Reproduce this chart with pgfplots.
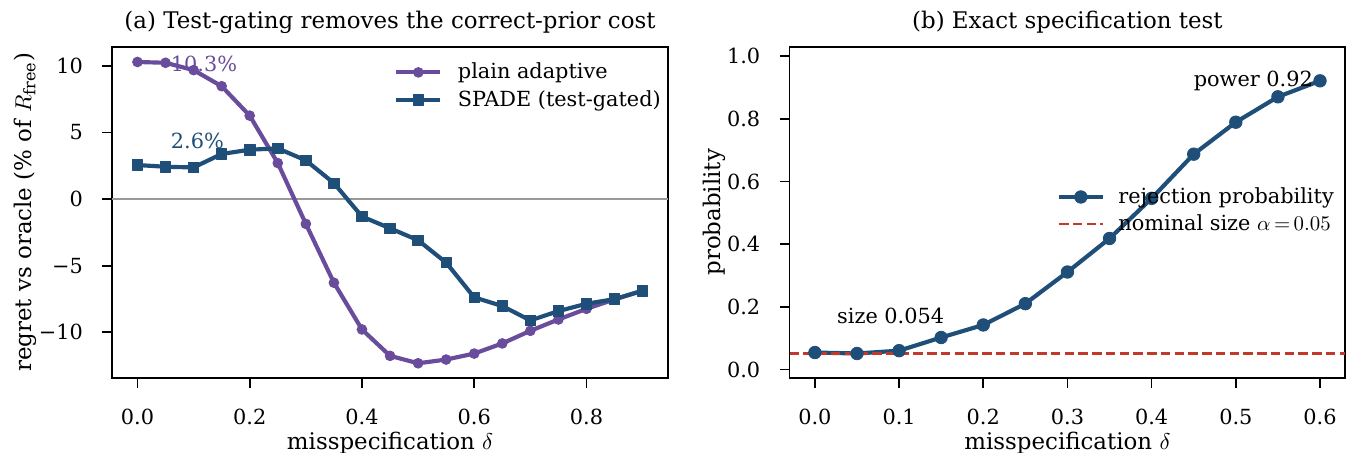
\documentclass[border=0pt]{standalone}
\usepackage{fontspec}
\setmainfont{DejaVu Serif}
\usepackage{pgfplots}
\pgfplotsset{compat=1.18}
\definecolor{cpurple}{HTML}{6A4C9C}
\definecolor{cnavy}{HTML}{1F4E79}
\definecolor{cred}{HTML}{C0392B}
\pgfplotsset{
  mystyle/.style={
    scale only axis, width=266.7pt, height=159pt,
    axis line style={line width=0.8pt, black},
    tick align=outside, major tick length=4.7pt,
    every tick/.style={line width=0.8pt, black},
    xtick pos=bottom, ytick pos=left,
    /pgf/number format/assume math mode=true,
    tick label style={font=\fontsize{10}{12}\selectfont},
    xticklabel style={anchor=north, inner sep=0pt, yshift=-10pt},
    yticklabel style={anchor=east, inner sep=0pt, xshift=-9.2pt},
    every axis x label/.style={at={(axis description cs:0.5,0)}, anchor=base, yshift=-34.3pt, inner sep=0pt, font=\fontsize{11}{13}\selectfont},
    every axis title/.style={at={(axis description cs:0.5,1)}, anchor=base, yshift=8.5pt, inner sep=0pt, font=\fontsize{11}{13}\selectfont},
    legend cell align=left,
    legend image code/.code={\draw[mark repeat=2,mark phase=2,#1] plot coordinates {(0pt,0pt) (10.5pt,0pt) (21pt,0pt)};},
  }
}
\begin{document}
\begin{tikzpicture}
\begin{axis}[mystyle,
  xmin=-0.045, xmax=0.945, ymin=-13.43, ymax=11.45,
  xtick={0,0.2,0.4,0.6,0.8}, xticklabels={0.0,0.2,0.4,0.6,0.8},
  ytick={-10,-5,0,5,10}, yticklabels={−10,−5,0,5,10},
  title={(a) Test-gating removes the correct-prior cost},
  xlabel={misspecification $\delta$},
  every axis y label/.style={at={(axis description cs:0,0.5)}, xshift=-41.9pt, rotate=90, anchor=center, inner sep=0pt, font=\fontsize{11}{13}\selectfont},
  ylabel={regret vs oracle (\% of $R_{\mathrm{free}}$)},
  legend style={draw=none, fill=none, at={(1,1)}, anchor=north east, xshift=-3.4pt, yshift=-7.8pt, font=\fontsize{10}{12}\selectfont, inner sep=0pt, outer sep=0pt, row sep=4.2pt, column sep=7.5pt, nodes={inner sep=0pt}},
]
\addplot[forget plot, black!40, line width=0.9pt] coordinates {(-0.045,0) (0.945,0)};
\addplot[cpurple, line width=2pt, line join=round, mark=*, mark size=2.35pt, mark options={solid, line width=0.4pt, fill=cpurple, draw=cpurple}] coordinates {
(0,10.30) (0.05,10.24) (0.10,9.69) (0.15,8.48) (0.20,6.27) (0.25,2.71) (0.30,-1.86) (0.35,-6.28) (0.40,-9.79) (0.45,-11.77) (0.50,-12.33) (0.55,-12.05) (0.60,-11.60) (0.65,-10.84) (0.70,-9.89) (0.75,-9.04) (0.80,-8.24) (0.85,-7.53) (0.90,-6.88)};
\addlegendentry{plain adaptive}
\addplot[cnavy, line width=2pt, line join=round, mark=square*, mark size=2.5pt, mark options={solid, line width=0.4pt, fill=cnavy, draw=cnavy}] coordinates {
(0,2.56) (0.05,2.43) (0.10,2.38) (0.15,3.39) (0.20,3.71) (0.25,3.81) (0.30,2.91) (0.35,1.20) (0.40,-1.31) (0.45,-2.19) (0.50,-3.09) (0.55,-4.77) (0.60,-7.38) (0.65,-8.03) (0.70,-9.11) (0.75,-8.41) (0.80,-7.86) (0.85,-7.51) (0.90,-6.88)};
\addlegendentry{SPADE (test-gated)}
\node[anchor=base west, inner sep=0pt, text=cpurple, font=\fontsize{10}{12}\selectfont] at (axis cs:0.059,9.61) {10.3\%};
\node[anchor=base west, inner sep=0pt, text=cnavy, font=\fontsize{10}{12}\selectfont] at (axis cs:0.059,3.77) {2.6\%};
\end{axis}
\begin{axis}[mystyle, at={(325.15pt,0pt)}, anchor=south west,
  xmin=-0.03, xmax=0.63, ymin=-0.027, ymax=1.03,
  xtick={0,0.1,0.2,0.3,0.4,0.5,0.6}, xticklabels={0.0,0.1,0.2,0.3,0.4,0.5,0.6},
  ytick={0,0.2,0.4,0.6,0.8,1.0}, yticklabels={0.0,0.2,0.4,0.6,0.8,1.0},
  title={(b) Exact specification test},
  xlabel={misspecification $\delta$},
  every axis y label/.style={at={(axis description cs:0,0.5)}, xshift=-36.3pt, rotate=90, anchor=center, inner sep=0pt, font=\fontsize{11}{13}\selectfont},
  ylabel={probability},
  legend style={draw=none, fill=none, at={(1,0.5)}, anchor=east, xshift=-5.5pt, yshift=0.9pt, font=\fontsize{10}{12}\selectfont, inner sep=0pt, outer sep=0pt, row sep=3.8pt, column sep=6.5pt, nodes={inner sep=0pt}},
]
\addplot[cnavy, line width=2pt, line join=round, mark=*, mark size=3pt, mark options={solid, line width=0.4pt, fill=cnavy, draw=cnavy}] coordinates {
(0,0.054) (0.05,0.051) (0.10,0.060) (0.15,0.102) (0.20,0.142) (0.25,0.210) (0.30,0.311) (0.35,0.418) (0.40,0.546) (0.45,0.687) (0.50,0.789) (0.55,0.870) (0.60,0.921)};
\addlegendentry{rejection probability}
\addplot[cred, line width=1.3pt, dash pattern=on 4.6pt off 2pt] coordinates {(-0.03,0.05) (0.63,0.05)};
\addlegendentry{nominal size $\alpha\mkern3mu{=}\mkern3mu0.05$}
\node[anchor=base west, inner sep=0pt, font=\fontsize{10}{12}\selectfont] at (axis cs:0.026,0.1465) {size 0.054};
\node[anchor=base east, inner sep=0pt, font=\fontsize{10}{12}\selectfont] at (axis cs:0.592,0.902) {power 0.92};
\end{axis}
\pgfresetboundingbox
\path[use as bounding box] (-53.86pt,-36pt) rectangle (592.2pt,181.4pt);
\end{tikzpicture}
\end{document}
